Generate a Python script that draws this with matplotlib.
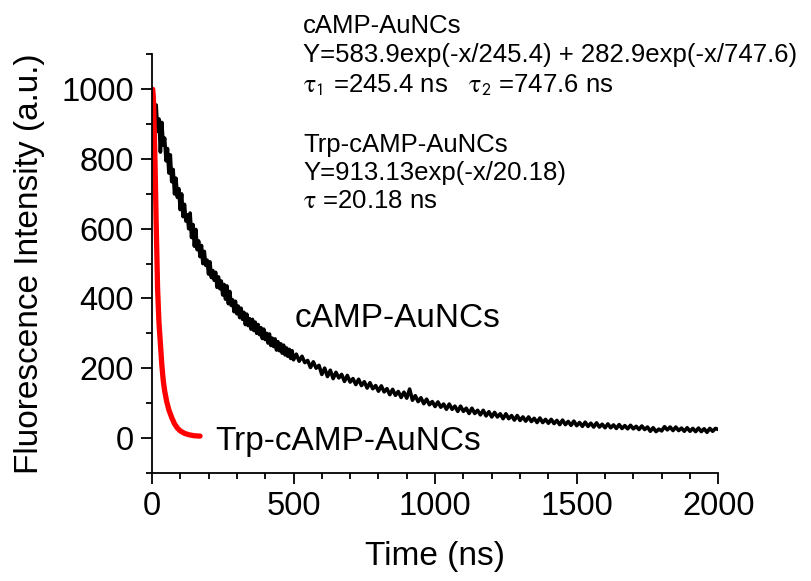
import numpy as np
import matplotlib
matplotlib.use("Agg")
import matplotlib.pyplot as plt
from matplotlib.ticker import MultipleLocator

plt.rcParams['font.family'] = ['Liberation Sans', 'DejaVu Sans']
plt.rcParams['mathtext.fontset'] = 'stix'

# ---------------- data ----------------
# cAMP-AuNCs decay trace: 5 ns steps from 5 to 500 ns
camp_t1 = list(range(5, 501, 5))
camp_y1 = [985, 930, 955, 880, 915, 820, 905, 840, 860, 795,
           830, 760, 812, 735, 770, 700, 745, 690, 715, 655,
           700, 635, 670, 622, 640, 600, 645, 575, 612, 550,
           598, 540, 565, 520, 552, 500, 535, 495, 510, 470,
           505, 460, 480, 452, 475, 432, 462, 428, 450, 410,
           440, 398, 436, 385, 420, 380, 396, 362, 392, 356,
           378, 345, 372, 340, 360, 325, 355, 322, 342, 312,
           340, 308, 332, 300, 325, 296, 316, 285, 312, 282,
           300, 272, 298, 265, 286, 262, 284, 252, 276, 250,
           270, 243, 266, 238, 258, 234, 254, 228, 250, 224]
# 10 ns steps from 510 to 2000 ns
camp_t2 = list(range(510, 2001, 10))
camp_y2 = [240, 220, 234, 216, 222, 202, 218, 200, 208, 182,
           200, 176, 194, 170, 188, 172, 182, 162, 179, 160,
           170, 153, 168, 150, 161, 143, 158, 141, 150, 134,
           149, 132, 141, 124, 139, 122, 133, 116, 131, 114,
           140, 108, 121, 104, 115, 98, 111, 95, 104, 90,
           103, 88, 97, 82, 97, 82, 91, 76, 91, 76,
           85, 70, 85, 70, 79, 66, 79, 63, 75, 60,
           73, 60, 69, 55, 69, 55, 64, 51, 64, 50,
           60, 48, 60, 47, 56, 44, 57, 44, 53, 42,
           53, 41, 50, 38, 51, 38, 47, 36, 48, 35,
           44, 33, 45, 33, 42, 31, 43, 31, 39, 29,
           40, 29, 37, 27, 38, 27, 35, 26, 36, 26,
           33, 24, 34, 24, 31, 19, 29, 18, 25, 20,
           32, 23, 31, 21, 31, 21, 28, 19, 29, 19,
           27, 18, 28, 18, 26, 16, 27, 19, 27, 24]
camp_t = camp_t1 + camp_t2
camp_y = camp_y1 + camp_y2

# Trp-cAMP-AuNCs decay trace
trp_t = [3, 6, 11, 15, 20, 25, 30, 35, 40, 45, 52, 60, 70, 80, 90,
         100, 115, 130, 150, 170]
trp_y = [1000, 960, 790, 620, 430, 330, 270, 210, 165, 135, 105, 80,
         58, 40, 28, 20, 13, 9, 6, 5]

x_ticks = [0, 500, 1000, 1500, 2000]
y_ticks = [0, 200, 400, 600, 800, 1000]

label_camp = "cAMP-AuNCs"
label_trp = "Trp-cAMP-AuNCs"
fit_lines = ["cAMP-AuNCs",
             "Y=583.9exp(-x/245.4) + 282.9exp(-x/747.6)",
             r"$\mathrm{\tau}_{\mathsf{1}}$ =245.4 ns   $\mathrm{\tau}_{\mathsf{2}}$ =747.6 ns",
             "Trp-cAMP-AuNCs",
             "Y=913.13exp(-x/20.18)",
             r"$\mathrm{\tau}$ =20.18 ns"]

# ---------------- figure ----------------
fig = plt.figure(figsize=(8.11, 5.81), dpi=100)
ax = fig.add_axes([0.1873, 0.1864, 0.6984, 0.7198])

ax.plot(camp_t, camp_y, color='black', lw=2.6)
ax.plot(trp_t, trp_y, color='red', lw=3.8, solid_capstyle='round')

ax.set_xlim(0, 2000)
ax.set_ylim(-100, 1100)
ax.set_xticks(x_ticks)
ax.set_yticks(y_ticks)
ax.xaxis.set_minor_locator(MultipleLocator(100))
ax.yaxis.set_minor_locator(MultipleLocator(100))

for s in ['top', 'right']:
    ax.spines[s].set_visible(False)
for s in ['left', 'bottom']:
    ax.spines[s].set_linewidth(1.3)

ax.tick_params(which='major', direction='out', length=8, width=1.3,
               labelsize=23.5, pad=5)
ax.tick_params(which='minor', direction='out', length=4.5, width=1.3)

ax.set_xlabel("Time (ns)", fontsize=24, labelpad=14)
ax.set_ylabel("Fluorescence Intensity (a.u.)", fontsize=24, labelpad=12)

ax.text(505, 319, label_camp, fontsize=24, va='baseline', ha='left')
ax.text(223, -34, label_trp, fontsize=24, va='baseline', ha='left')

baselines = [33, 62, 92, 152, 180, 208]
for txt, b in zip(fit_lines, baselines):
    fig.text(303 / 811, 1 - b / 581, txt, fontsize=18.5, va='baseline',
             ha='left')

fig.savefig("out.png", dpi=100)
